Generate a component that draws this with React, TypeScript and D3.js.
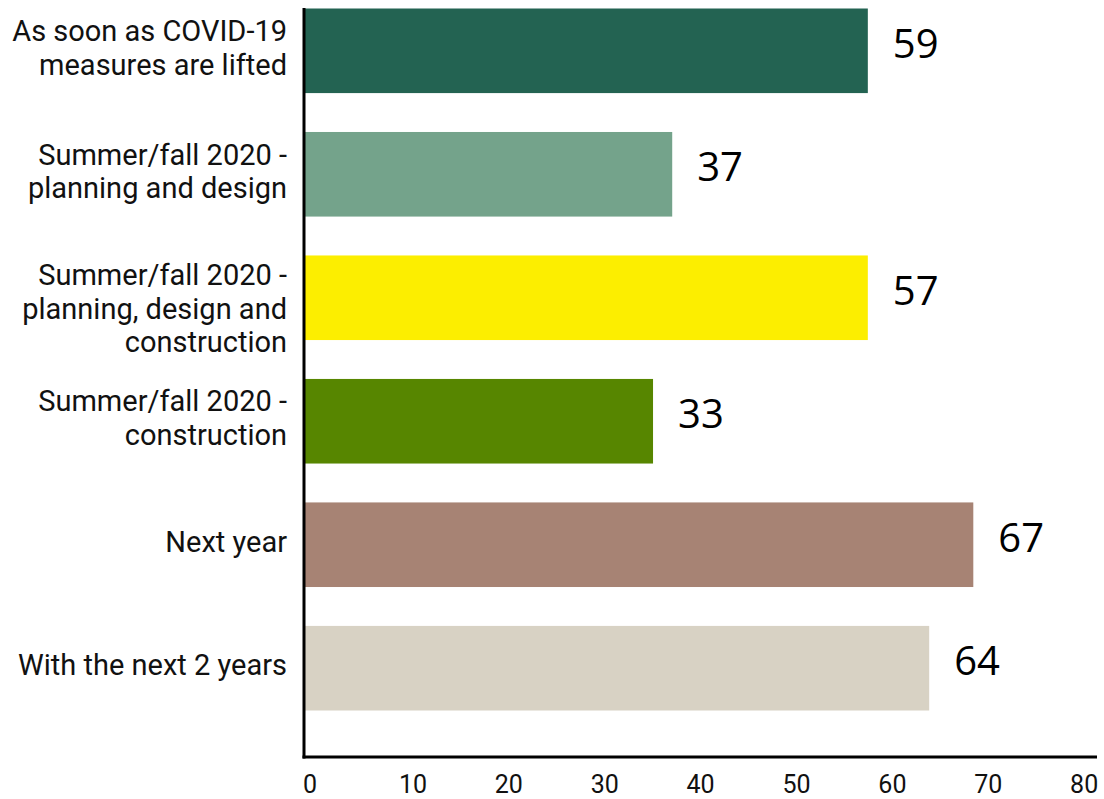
import React from "react";
import * as d3 from "d3";

const categories: string[][] = [
  ["As soon as COVID-19", "measures are lifted"],
  ["Summer/fall 2020 -", "planning and design"],
  ["Summer/fall 2020 -", "planning, design and", "construction"],
  ["Summer/fall 2020 -", "construction"],
  ["Next year"],
  ["With the next 2 years"],
];
// bar lengths as drawn in the reference
const barLengths: number[] = [58.8, 38.4, 58.8, 36.4, 69.8, 65.2];
// numbers printed next to bars
const valueLabels: number[] = [59, 37, 57, 33, 67, 64];
const barColors: string[] = ["#236352", "#74a38b", "#fcee00", "#578600", "#a78374", "#d8d2c4"];
const xTicks: number[] = [0, 10, 20, 30, 40, 50, 60, 70, 80];

const W = 1104;
const H = 799;
const axisX = 304;
const axisY = 757;
const axisEnd = 1097;

export default function App() {
  const x = d3.scaleLinear().domain([0, 82.7]).range([axisX, axisEnd]);
  const y = d3
    .scaleBand<number>()
    .domain(d3.range(categories.length))
    .range([8.5, 710.5])
    .paddingInner(0.315)
    .paddingOuter(0);
  const lh = 33.5;

  return (
    <svg
      width={W}
      height={H}
      style={{ position: "absolute", left: 0, top: 0, background: "#fff" }}
    >
      {barLengths.map((v, i) => (
        <rect
          key={"b" + i}
          x={x(0)}
          y={y(i)!}
          width={x(v) - x(0)}
          height={y.bandwidth()}
          fill={barColors[i]}
        />
      ))}
      {valueLabels.map((v, i) => (
        <text
          key={"v" + i}
          x={x(barLengths[i]) + 25}
          y={y(i)! + y.bandwidth() / 2 + 7}
          fontFamily="'Open Sans', sans-serif"
          fontSize={40}
          fill="#000"
        >
          {v}
        </text>
      ))}
      {categories.map((lines, i) => {
        const top = y(i)!;
        const c = top + y.bandwidth() / 2;
        const first = Math.max(c + 7 - ((lines.length - 1) * lh) / 2, top + 30);
        return (
          <text
            key={"c" + i}
            textAnchor="end"
            fontFamily="Roboto, sans-serif"
            fontSize={29}
            fill="#111"
          >
            {lines.map((l, j) => (
              <tspan key={j} x={287} y={first + j * lh}>
                {l}
              </tspan>
            ))}
          </text>
        );
      })}
      <line x1={axisX} x2={axisX} y1={8} y2={axisY + 1.5} stroke="#000" strokeWidth={3} />
      <line x1={axisX - 1.5} x2={axisEnd} y1={axisY} y2={axisY} stroke="#000" strokeWidth={3} />
      {xTicks.map((t) => (
        <text
          key={"t" + t}
          x={x(t) - 1}
          y={793}
          textAnchor="start"
          fontFamily="Roboto, sans-serif"
          fontSize={25}
          fill="#111"
        >
          {t}
        </text>
      ))}
    </svg>
  );
}
